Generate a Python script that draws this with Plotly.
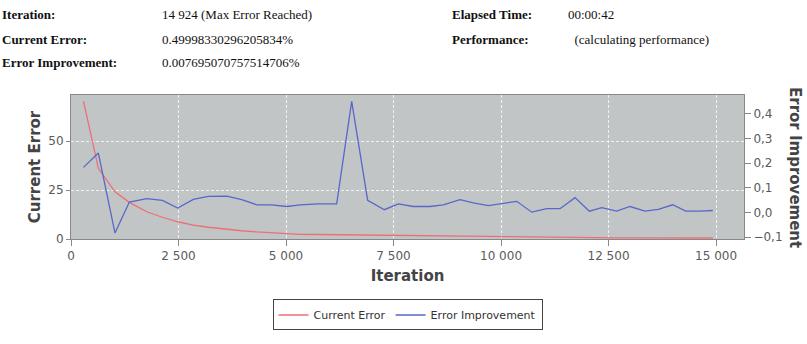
import plotly.graph_objects as go

iterations = [290, 636, 1023, 1357, 1760, 2124, 2481, 2845, 3194, 3620, 3969, 4318, 4667,
              5016, 5326, 5750, 6178, 6527, 6899, 7287, 7612, 7961, 8349, 8659, 9046, 9357,
              9705, 10016, 10365, 10714, 11062, 11372, 11721, 12054, 12341, 12690, 13000,
              13349, 13659, 13992, 14295, 14628, 14924]
current_error = [70.4, 36.1, 24.1, 18.7, 13.9, 11.1, 8.8, 7.1, 6.0, 4.9, 4.2, 3.6, 3.2,
                 2.6, 2.4, 2.3, 2.2, 2.1, 2.0, 1.6, 1.5, 1.4, 1.3, 1.3, 1.2, 1.2,
                 1.1, 1.0, 0.9, 0.9, 0.8, 0.8, 0.7, 0.7, 0.7, 0.6, 0.6,
                 0.6, 0.6, 0.5, 0.5, 0.5, 0.5]
error_improvement = [0.183, 0.241, -0.084, 0.042, 0.056, 0.049, 0.018, 0.053, 0.065, 0.066, 0.052, 0.031, 0.031,
                     0.024, 0.031, 0.035, 0.035, 0.451, 0.049, 0.011, 0.035, 0.024, 0.024, 0.031, 0.052, 0.039,
                     0.028, 0.035, 0.045, 0.001, 0.015, 0.015, 0.060, 0.005, 0.019, 0.005, 0.024,
                     0.005, 0.012, 0.031, 0.005, 0.005, 0.0077]

x_ticks = [0, 2500, 5000, 7500, 10000, 12500, 15000]
left_ticks = [0, 25, 50]
right_ticks = [-0.1, 0.0, 0.1, 0.2, 0.3, 0.4]

header_rows = [
    ("Iteration:", "14 924 (Max Error Reached)", "Elapsed Time:", "00:00:42"),
    ("Current Error:", "0.49998330296205834%", "Performance:", "\u00a0\u00a0(calculating performance)"),
    ("Error Improvement:", "0.007695070757514706%", "", ""),
]

RED = "#ec6f78"
BLUE = "#5867c9"
TICKC = "#5a5a5a"
SANS = "DejaVu Sans"
GRID = "rgba(255,255,255,0.75)"

fig = go.Figure()
fig.add_trace(go.Scatter(x=iterations, y=current_error, name="Current Error",
                         mode="lines", line=dict(color=RED, width=1.3), yaxis="y"))
fig.add_trace(go.Scatter(x=iterations, y=error_improvement, name="Error Improvement",
                         mode="lines", line=dict(color=BLUE, width=1.3), yaxis="y2"))

fig.update_layout(
    width=807, height=344,
    margin=dict(l=71, r=63, t=95, b=105),
    paper_bgcolor="white",
    plot_bgcolor="#c1c5c5",
    separators=", ",
    showlegend=True,
    legend=dict(orientation="h", x=0.5, xanchor="center", y=-0.42, yanchor="top",
                bordercolor="#444444", borderwidth=1, bgcolor="white",
                font=dict(family=SANS, size=11, color="#333333"),
                itemwidth=30, tracegroupgap=0),
    xaxis=dict(range=[0, 15650], tickvals=x_ticks, tickformat=",d",
               showgrid=True, gridcolor=GRID, griddash="3px,2px", gridwidth=1,
               zeroline=False, showline=True, linecolor="#888888", mirror=True,
               ticks="outside", ticklen=6, tickcolor="#888888",
               tickfont=dict(family=SANS, size=12, color=TICKC),
               title=dict(text="<b>Iteration</b>", font=dict(family=SANS, size=15, color="#444444"),
                          standoff=8)),
    yaxis=dict(range=[0, 73.5], tickvals=left_ticks,
               showgrid=True, gridcolor=GRID, griddash="3px,2px", gridwidth=1,
               zeroline=False, showline=True, linecolor="#888888", mirror=True,
               ticks="outside", ticklen=4, tickcolor="#888888",
               tickfont=dict(family=SANS, size=12, color=TICKC),
               title=dict(text="<b>Current Error</b>", font=dict(family=SANS, size=15, color="#444444"),
                          standoff=4)),
    yaxis2=dict(range=[-0.108, 0.477], tickvals=right_ticks, tickformat=".1f",
                overlaying="y", side="right", showgrid=False, zeroline=False,
                showline=False, ticks="outside", ticklen=6, tickcolor="#888888",
                tickfont=dict(family=SANS, size=12, color=TICKC)),
)

fig.add_annotation(text="<b>Error Improvement</b>", xref="paper", yref="paper",
                   x=1.0, xshift=62, y=0.5, textangle=90, showarrow=False,
                   font=dict(family=SANS, size=15, color="#444444"))

row_y = [14, 39, 63]
SERIF = "Liberation Serif"
for (lab, val, lab2, val2), yy in zip(header_rows, row_y):
    yp = 1 + (95 - yy) / 144.0
    for txt, xp, bold in [(lab, 0, True), (val, 160, False), (lab2, 450, True), (val2, 566, False)]:
        if not txt:
            continue
        fig.add_annotation(text=f"<b>{txt}</b>" if bold else txt,
                           xref="paper", yref="paper",
                           x=(xp - 71) / 673.0, y=yp, xanchor="left", yanchor="middle",
                           showarrow=False,
                           font=dict(family=SERIF, size=13, color="#111111"))

fig.write_html("out.html")
